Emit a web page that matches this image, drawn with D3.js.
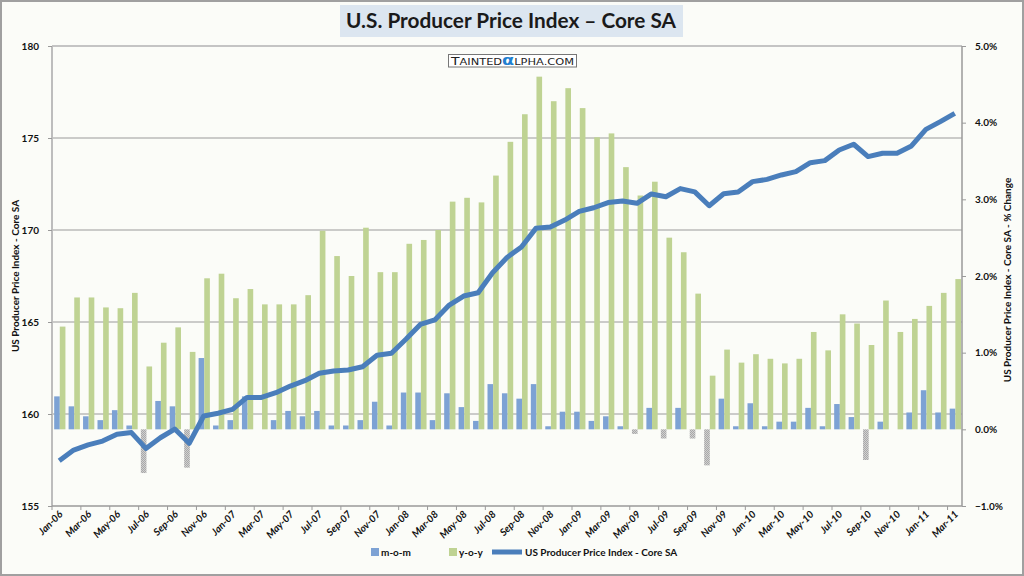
<!DOCTYPE html>
<html><head><meta charset="utf-8">
<script src="https://cdn.jsdelivr.net/npm/d3@7"></script>
<style>
html,body{margin:0;padding:0;background:#fff;}
svg{display:block;font-family:Lato,"Open Sans",sans-serif;}
</style></head>
<body><svg id="c" width="1024" height="576"></svg>
<script>
const months = ["Jan-06","Feb-06","Mar-06","Apr-06","May-06","Jun-06","Jul-06","Aug-06","Sep-06","Oct-06","Nov-06","Dec-06",
"Jan-07","Feb-07","Mar-07","Apr-07","May-07","Jun-07","Jul-07","Aug-07","Sep-07","Oct-07","Nov-07","Dec-07",
"Jan-08","Feb-08","Mar-08","Apr-08","May-08","Jun-08","Jul-08","Aug-08","Sep-08","Oct-08","Nov-08","Dec-08",
"Jan-09","Feb-09","Mar-09","Apr-09","May-09","Jun-09","Jul-09","Aug-09","Sep-09","Oct-09","Nov-09","Dec-09",
"Jan-10","Feb-10","Mar-10","Apr-10","May-10","Jun-10","Jul-10","Aug-10","Sep-10","Oct-10","Nov-10","Dec-10",
"Jan-11","Feb-11","Mar-11"];
const ppi = [157.46,158.04,158.32,158.53,158.90,158.99,158.13,158.71,159.18,158.41,
159.89,160.04,160.25,160.90,160.90,161.16,161.52,161.81,162.21,162.34,
162.39,162.57,163.19,163.30,164.06,164.87,165.11,165.92,166.41,166.59,
167.68,168.51,169.08,170.09,170.16,170.54,171.01,171.21,171.49,171.58,
171.45,171.96,171.81,172.25,172.07,171.32,171.97,172.07,172.63,172.75,
172.99,173.17,173.66,173.77,174.35,174.66,173.99,174.17,174.17,174.57,
175.47,175.89,176.34];
const mom = [0.43,0.30,0.17,0.12,0.25,0.05,-0.57,0.37,0.30,-0.50,
0.93,0.05,0.12,0.43,0.00,0.12,0.24,0.17,0.24,0.05,
0.05,0.12,0.36,0.05,0.48,0.48,0.12,0.47,0.29,0.11,
0.59,0.47,0.40,0.59,0.04,0.23,0.23,0.11,0.17,0.04,
-0.06,0.28,-0.12,0.28,-0.12,-0.47,0.40,0.04,0.34,0.04,
0.10,0.10,0.28,0.04,0.33,0.16,-0.40,0.10,0.00,0.22,
0.51,0.22,0.27];
const yoy = [1.34,1.72,1.72,1.59,1.58,1.78,0.82,1.13,1.33,1.01,
1.97,2.03,1.71,1.83,1.63,1.63,1.63,1.75,2.59,2.26,
2.00,2.63,2.05,2.05,2.42,2.47,2.60,2.97,3.02,2.96,
3.31,3.75,4.11,4.60,4.28,4.45,4.19,3.81,3.86,3.42,
3.05,3.23,2.50,2.31,1.77,0.70,1.04,0.87,0.98,0.92,
0.86,0.92,1.27,1.03,1.50,1.38,1.10,1.68,1.27,1.44,
1.61,1.78,1.96];
const leftTicks = [155,160,165,170,175,180];
const rightTicks = [-1,0,1,2,3,4,5];
const gridTicks = [160,165,170,175];
const title = "U.S. Producer Price Index \u2013 Core SA";
const leftTitle = "US Producer Price Index - Core SA";
const rightTitle = "US Producer Price Index - Core SA - % Change";
const legendLabels = ["m-o-m","y-o-y","US Producer Price Index - Core SA"];

const svg = d3.select("#c");
const L = 52, R = 962, T = 46, B = 506;
const x = d3.scaleBand().domain(months).range([L, R]).padding(0);
const bw = x.bandwidth();
const yL = d3.scaleLinear().domain([155,180]).range([B, T]);
const yR = d3.scaleLinear().domain([-1,5]).range([B, T]);

const defs = svg.append("defs");
const pat = defs.append("pattern").attr("id","neg").attr("width",2).attr("height",2).attr("patternUnits","userSpaceOnUse");
pat.append("rect").attr("width",2).attr("height",2).attr("fill","#d0d0d0");
pat.append("rect").attr("width",1).attr("height",1).attr("fill","#a8a8a8");
pat.append("rect").attr("x",1).attr("y",1).attr("width",1).attr("height",1).attr("fill","#a8a8a8");

// background
svg.append("rect").attr("x",1).attr("y",1).attr("width",1022).attr("height",574)
  .attr("fill","#fbfcf8").attr("stroke","#a0a0a0").attr("stroke-width",2);

// title
svg.append("rect").attr("x",340).attr("y",5).attr("width",343).attr("height",32).attr("fill","#dce6f0");
svg.append("text").attr("x",511).attr("y",28).attr("text-anchor","middle")
  .attr("font-size",21).attr("font-weight",700).attr("fill","#1a1a1a")
  .attr("textLength",330).attr("lengthAdjust","spacingAndGlyphs").text(title);

// gridlines
svg.append("g").selectAll("line").data(gridTicks).join("line")
  .attr("x1",L).attr("x2",R).attr("y1",d=>yL(d)).attr("y2",d=>yL(d))
  .attr("stroke","#9a9a9a").attr("stroke-width",1);
// plot border top
svg.append("line").attr("x1",L).attr("x2",R).attr("y1",T).attr("y2",T).attr("stroke","#c4c4c4").attr("stroke-width",2);

// watermark
const wm = svg.append("g");
wm.append("rect").attr("x",448.5).attr("y",54.5).attr("width",128).attr("height",12.5).attr("fill","#fff").attr("stroke","#777").attr("stroke-width",1);
const wt = wm.append("text").attr("x",451).attr("y",65)
  .attr("font-family","DejaVu Sans, sans-serif").attr("fill","#222")
  .attr("textLength",123).attr("lengthAdjust","spacingAndGlyphs");
wt.append("tspan").attr("font-size",11).text("T");
wt.append("tspan").attr("font-size",9).text("AINTED");
wt.append("tspan").attr("font-size",14).attr("font-weight",700).attr("fill","#1f7fd0").text("\u03b1");
wt.append("tspan").attr("font-size",9).text("LPHA.COM");

// bars
const g = svg.append("g");
g.selectAll("rect.mom").data(months).join("rect").attr("class","mom")
  .attr("x",d=>x(d)+bw*0.15).attr("width",bw*0.39)
  .attr("y",(d,i)=>Math.min(yR(mom[i]),yR(0)))
  .attr("height",(d,i)=>Math.abs(yR(mom[i])-yR(0)))
  .attr("fill",(d,i)=>mom[i]<0?"url(#neg)":"#7da2d4");
g.selectAll("rect.yoy").data(months).join("rect").attr("class","yoy")
  .attr("x",d=>x(d)+bw*0.54).attr("width",bw*0.39)
  .attr("y",(d,i)=>Math.min(yR(yoy[i]),yR(0)))
  .attr("height",(d,i)=>Math.abs(yR(yoy[i])-yR(0)))
  .attr("fill","#bfd393");

// line
const line = d3.line().x((d,i)=>x(months[i])+bw/2).y(d=>yL(d));
svg.append("path").datum(ppi).attr("d",line).attr("fill","none")
  .attr("stroke","#4a7ebb").attr("stroke-width",5).attr("stroke-linejoin","round");

// axes lines
svg.append("line").attr("x1",L).attr("x2",L).attr("y1",T).attr("y2",B).attr("stroke","#bdbdbd").attr("stroke-width",2);
svg.append("line").attr("x1",R).attr("x2",R).attr("y1",T).attr("y2",B).attr("stroke","#9a9a9a").attr("stroke-width",1.5);
svg.append("line").attr("x1",L).attr("x2",R).attr("y1",B).attr("y2",B).attr("stroke","#9a9a9a").attr("stroke-width",1.5);

// left axis
const la = svg.append("g").attr("transform",`translate(${L},0)`)
  .call(d3.axisLeft(yL).tickValues(leftTicks).tickSize(4).tickPadding(9).tickFormat(d3.format("d")));
la.select(".domain").remove();
la.selectAll("line").attr("stroke","#9a9a9a");
la.selectAll("text").attr("font-size",10).attr("font-weight",700).attr("fill","#111").attr("font-family","Lato, sans-serif");
// right axis
const ra = svg.append("g").attr("transform",`translate(${R},0)`)
  .call(d3.axisRight(yR).tickValues(rightTicks).tickSize(4).tickPadding(9).tickFormat(d=>d3.format(".1f")(d)+"%"));
ra.select(".domain").remove();
ra.selectAll("line").attr("stroke","#9a9a9a");
ra.selectAll("text").attr("font-size",10).attr("font-weight",700).attr("fill","#111").attr("font-family","Lato, sans-serif");

// x ticks at boundaries every 2 categories
const tickMonths = months.filter((m,i)=>i%2===0);
svg.append("g").selectAll("line").data(tickMonths).join("line")
  .attr("x1",d=>x(d)).attr("x2",d=>x(d)).attr("y1",B).attr("y2",B+4).attr("stroke","#9a9a9a");
// x labels
const xa = svg.append("g").attr("transform",`translate(0,${B})`)
  .call(d3.axisBottom(x).tickValues(tickMonths).tickSize(0).tickPadding(0));
xa.select(".domain").remove();
xa.selectAll("text").attr("font-size",10).attr("font-weight",700).attr("fill","#111")
  .attr("font-family","Lato, sans-serif").attr("font-style","italic")
  .attr("text-anchor","end").attr("dy",null).attr("y",0)
  .attr("transform","translate(4,9) rotate(-45)");

// axis titles
svg.append("text").attr("transform","translate(19,276) rotate(-90)").attr("text-anchor","middle")
  .attr("font-size",10).attr("font-weight",700).attr("fill","#111").text(leftTitle);
svg.append("text").attr("transform","translate(1011,280) rotate(-90)").attr("text-anchor","middle")
  .attr("font-size",10).attr("font-weight",700).attr("fill","#111").text(rightTitle);

// legend
const lg = svg.append("g").attr("font-size",10).attr("font-weight",700).attr("fill","#111");
lg.append("rect").attr("x",371).attr("y",548).attr("width",8).attr("height",8).attr("fill","#7da2d4");
lg.append("text").attr("x",381).attr("y",556).text(legendLabels[0]);
lg.append("rect").attr("x",449).attr("y",548).attr("width",8).attr("height",8).attr("fill","#bfd393");
lg.append("text").attr("x",459).attr("y",556).text(legendLabels[1]);
lg.append("line").attr("x1",492).attr("x2",522).attr("y1",552).attr("y2",552).attr("stroke","#4a7ebb").attr("stroke-width",5);
lg.append("text").attr("x",525).attr("y",556).text(legendLabels[2]);
</script></body></html>
